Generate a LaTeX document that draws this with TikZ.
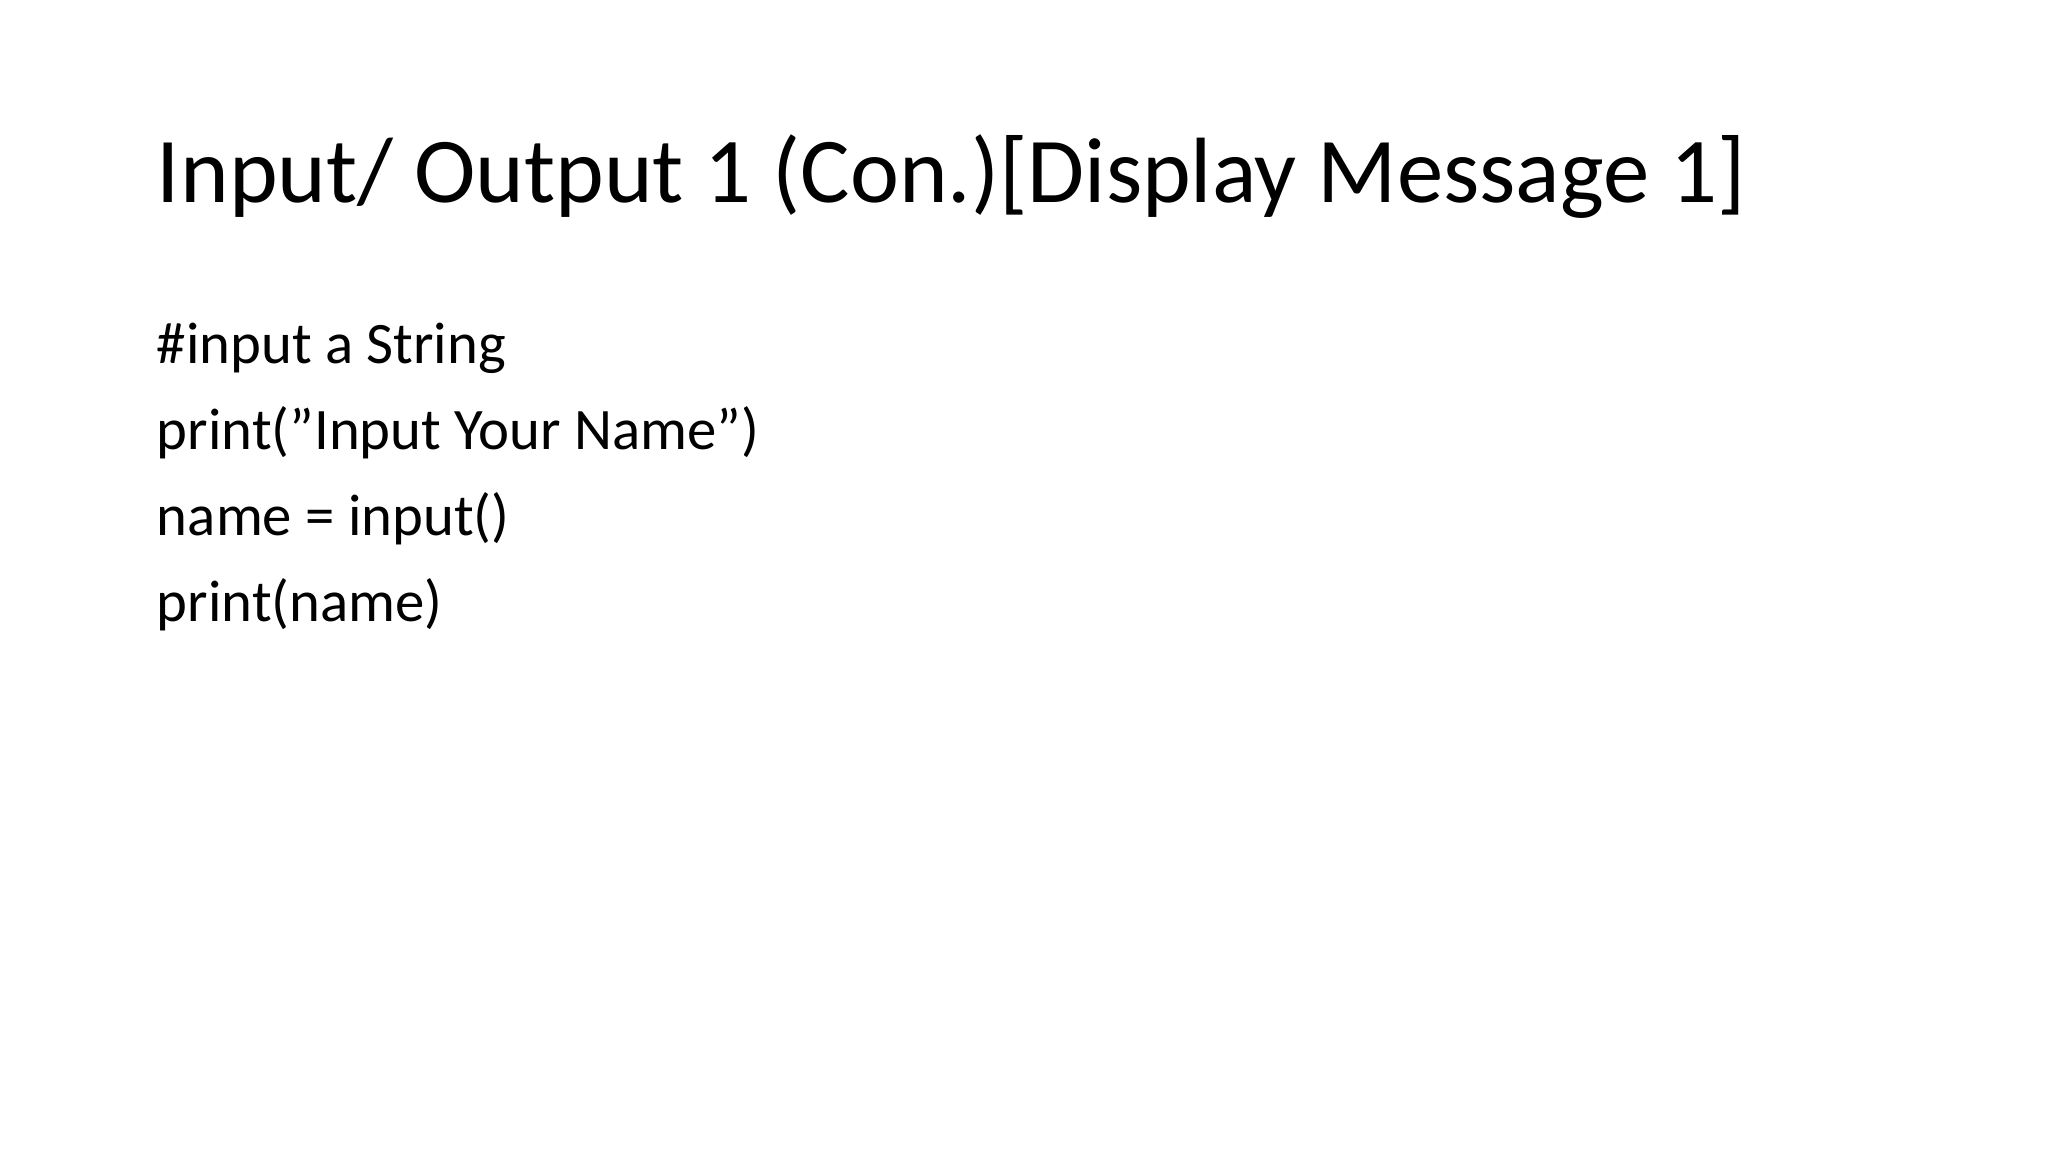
\documentclass[tikz,border=0pt]{standalone}
\usepackage{fontspec}
\setmainfont{Carlito}
\begin{document}
\begin{tikzpicture}
[x=1pt, y=-1pt,
titletext/.style={anchor=base west, inner sep=0pt, font=\fontsize{71}{85}\selectfont},
codeline/.style={anchor=base west, inner sep=0pt, font=\fontsize{45}{54}\selectfont}]
\useasboundingbox[fill=white] (0,0) rectangle (1568,882);
\node[titletext] (title) at (120, 155) {Input/ Output 1 (Con.)[Display Message 1]};
\node[codeline] (line1) at (120, 278) {\#input a String};
\node[codeline] (line2) at (120, 344) {print(\symbol{34}Input Your Name\symbol{34})};
\node[codeline] (line3) at (120, 410) {name = input()};
\node[codeline] (line4) at (120, 476) {print(name)};
\end{tikzpicture}
\end{document}
